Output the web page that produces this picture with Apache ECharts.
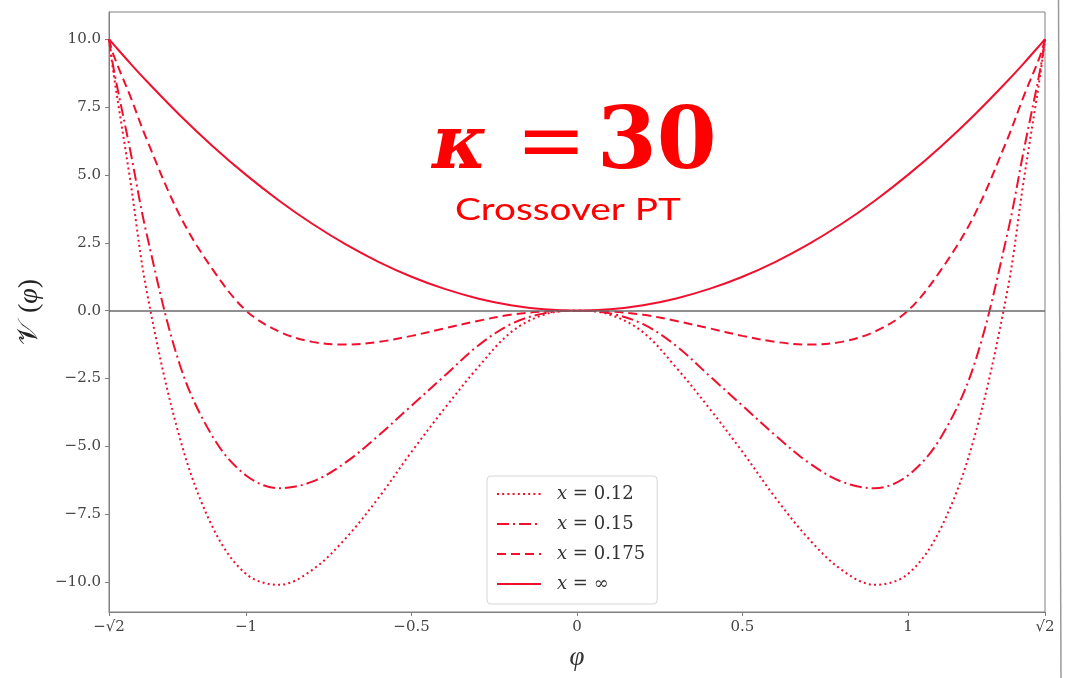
<!DOCTYPE html>
<html>
<head>
<meta charset="utf-8">
<script src="https://cdn.jsdelivr.net/npm/echarts@6/dist/echarts.min.js"></script>
<style>
  html, body { margin: 0; padding: 0; background: #fff; }
  #chart { width: 1069px; height: 678px; }
</style>
</head>
<body>
<div id="chart"></div>
<script>
// Field values φ at which the potential is sampled (symmetric about 0)
const phi = [-1.4142, -1.4, -1.35, -1.3, -1.2, -1.1, -1.0, -0.9, -0.8, -0.7, -0.6, -0.5, -0.4, -0.3, -0.2, -0.1,
             0,
             0.1, 0.2, 0.3, 0.4, 0.5, 0.6, 0.7, 0.8, 0.9, 1.0, 1.1, 1.2, 1.3, 1.35, 1.4, 1.4142];

// V(φ) for each x
const v012 = [10, 8.7, 4.8, 0.7, -4.7, -8.0, -9.7, -10.1, -9.55, -8.4, -6.9, -5.2, -3.6, -2.1, -0.8, -0.15,
              0,
              -0.15, -0.8, -2.1, -3.6, -5.2, -6.9, -8.4, -9.55, -10.1, -9.7, -8.0, -4.7, 0.7, 4.8, 8.7, 10];
const v015 = [10, 8.9, 5.9, 2.8, -2.0, -4.66, -6.07, -6.54, -6.3, -5.6, -4.6, -3.5, -2.4, -1.3, -0.5, -0.1,
              0,
              -0.1, -0.5, -1.3, -2.4, -3.5, -4.6, -5.6, -6.3, -6.54, -6.07, -4.66, -2.0, 2.8, 5.9, 8.9, 10];
const v0175 = [10, 9.4, 7.9, 6.3, 3.5, 1.5, 0, -0.77, -1.15, -1.25, -1.15, -0.93, -0.65, -0.38, -0.15, -0.03,
               0,
               -0.03, -0.15, -0.38, -0.65, -0.93, -1.15, -1.25, -1.15, -0.77, 0, 1.5, 3.5, 6.3, 7.9, 9.4, 10];
const vInf = [10, 9.8, 9.11, 8.45, 7.2, 6.05, 5, 4.05, 3.2, 2.45, 1.8, 1.25, 0.8, 0.45, 0.2, 0.05,
              0,
              0.05, 0.2, 0.45, 0.8, 1.25, 1.8, 2.45, 3.2, 4.05, 5, 6.05, 7.2, 8.45, 9.11, 9.8, 10];

const seriesNames = ['0.12', '0.15', '0.175', '∞'];

// Axis ticks
const xTicks = [-Math.SQRT2, -1, -0.5, 0, 0.5, 1, Math.SQRT2];
const xTickLabels = ['−√2', '−1', '−0.5', '0', '0.5', '1', '√2'];
const yTicks = [-10, -7.5, -5, -2.5, 0, 2.5, 5, 7.5, 10];
const yTickLabels = ['−10.0', '−7.5', '−5.0', '−2.5', '0.0', '2.5', '5.0', '7.5', '10.0'];

const RED = '#f0102e';
const TITLE_RED = '#ff0000';
const AXIS = '#808080';
const SERIF = '"DejaVu Serif", "Liberation Serif", serif';
const SERIF2 = '"Liberation Serif", "DejaVu Serif", serif';

function pairs(ys) { return phi.map((p, i) => [p, ys[i]]); }
function lookup(v, ticks, labels) {
  for (let i = 0; i < ticks.length; i++) if (Math.abs(ticks[i] - v) < 1e-6) return labels[i];
  return '';
}

const lineStyles = [
  { width: 2, type: [2, 3.2] },
  { width: 2, type: [12, 4, 2, 4] },
  { width: 2, type: [9, 5] },
  { width: 2, type: 'solid' }
];
const values = [v012, v015, v0175, vInf];

const series = seriesNames.map((n, i) => ({
  name: n,
  type: 'line',
  data: pairs(values[i]),
  smooth: 0.35,
  symbol: 'none',
  lineStyle: Object.assign({ color: RED, cap: 'butt' }, lineStyles[i]),
  itemStyle: { color: RED },
  z: 3,
  silent: true
}));

// horizontal reference line at V = 0
series.push({
  type: 'line',
  data: [],
  silent: true,
  markLine: {
    silent: true,
    symbol: 'none',
    label: { show: false },
    lineStyle: { color: '#6a6a6a', width: 1.5, type: 'solid' },
    data: [{ yAxis: 0 }]
  },
  z: 2
});

const chart = echarts.init(document.getElementById('chart'), null, { renderer: 'canvas' });
chart.setOption({
  animation: false,
  backgroundColor: '#fff',
  grid: {
    left: 109, right: 24, top: 12, bottom: 66,
    show: true, borderColor: AXIS, borderWidth: 1, backgroundColor: 'transparent'
  },
  xAxis: {
    type: 'value',
    min: -Math.SQRT2, max: Math.SQRT2,
    name: 'φ',
    nameLocation: 'middle',
    nameGap: 32,
    nameTextStyle: { fontFamily: SERIF2, fontStyle: 'italic', fontSize: 27, color: '#333' },
    axisLine: { show: true, onZero: false, lineStyle: { color: AXIS, width: 1 } },
    axisTick: { show: true, inside: false, length: 4, customValues: xTicks, lineStyle: { color: AXIS } },
    axisLabel: {
      customValues: xTicks,
      margin: 8,
      fontFamily: SERIF, fontSize: 15, color: '#444',
      formatter: v => lookup(v, xTicks, xTickLabels)
    },
    splitLine: { show: false }
  },
  yAxis: {
    type: 'value',
    min: -11.1, max: 11.0,
    name: '{v|𝒱}{s| }{p|(}{i|φ}{p|)}',
    nameLocation: 'middle',
    nameRotate: 90,
    nameGap: 62,
    nameTextStyle: {
      color: '#222',
      rich: {
        v: { fontFamily: SERIF2, fontSize: 28, color: '#222' },
        s: { fontFamily: SERIF2, fontSize: 28, width: 9 },
        p: { fontFamily: SERIF2, fontSize: 28, color: '#222' },
        i: { fontFamily: SERIF2, fontStyle: 'italic', fontSize: 28, color: '#222' }
      }
    },
    axisLine: { show: true, onZero: false, lineStyle: { color: AXIS, width: 1 } },
    axisTick: { show: true, inside: false, length: 4, customValues: yTicks, lineStyle: { color: AXIS } },
    axisLabel: {
      customValues: yTicks,
      margin: 8,
      fontFamily: SERIF, fontSize: 15, color: '#444',
      formatter: v => lookup(v, yTicks, yTickLabels)
    },
    splitLine: { show: false }
  },
  legend: {
    orient: 'vertical',
    left: 487, top: 476,
    padding: [9, 12, 11, 9],
    itemWidth: 44, itemHeight: 14, itemGap: 12,
    backgroundColor: '#fff',
    borderColor: '#d6d6d6', borderWidth: 1, borderRadius: 4,
    itemStyle: { color: 'rgba(0,0,0,0)', borderColor: 'rgba(0,0,0,0)', borderWidth: 0, opacity: 0 },
    data: seriesNames,
    formatter: n => '{i|x}{t| = ' + n + '}',
    textStyle: {
      padding: [0, 0, 0, 11],
      rich: {
        i: { fontFamily: SERIF, fontStyle: 'italic', fontSize: 18, lineHeight: 18, color: '#333' },
        t: { fontFamily: SERIF, fontSize: 18, lineHeight: 18, color: '#333' }
      }
    }
  },
  graphic: [
    {
      type: 'text', x: 432, y: 149, z: 10,
      style: {
        text: 'κ', fontFamily: SERIF, fontStyle: 'italic', fontWeight: 'bold', fontSize: 74,
        fill: TITLE_RED, align: 'left', verticalAlign: 'middle'
      }
    },
    {
      type: 'text', x: 516, y: 147, z: 10,
      style: {
        text: '=', fontFamily: SERIF, fontSize: 84,
        fill: TITLE_RED, align: 'left', verticalAlign: 'middle'
      }
    },
    {
      type: 'text', x: 597, y: 146, z: 10,
      style: {
        text: '30', fontFamily: SERIF, fontWeight: 'bold', fontSize: 86,
        fill: TITLE_RED, align: 'left', verticalAlign: 'middle'
      }
    },
    {
      type: 'text', x: 455, y: 210, scaleX: 1.29, z: 10,
      style: {
        text: 'Crossover PT',
        fontFamily: 'Lato, "Open Sans", sans-serif',
        fontSize: 30,
        fill: TITLE_RED, align: 'left', verticalAlign: 'middle'
      }
    },
    {
      type: 'line', z: 10,
      shape: { x1: 1058.5, y1: 0, x2: 1061, y2: 678 },
      style: { stroke: '#9a9a9a', lineWidth: 1.5 }
    }
  ],
  series: series
});
</script>
</body>
</html>
